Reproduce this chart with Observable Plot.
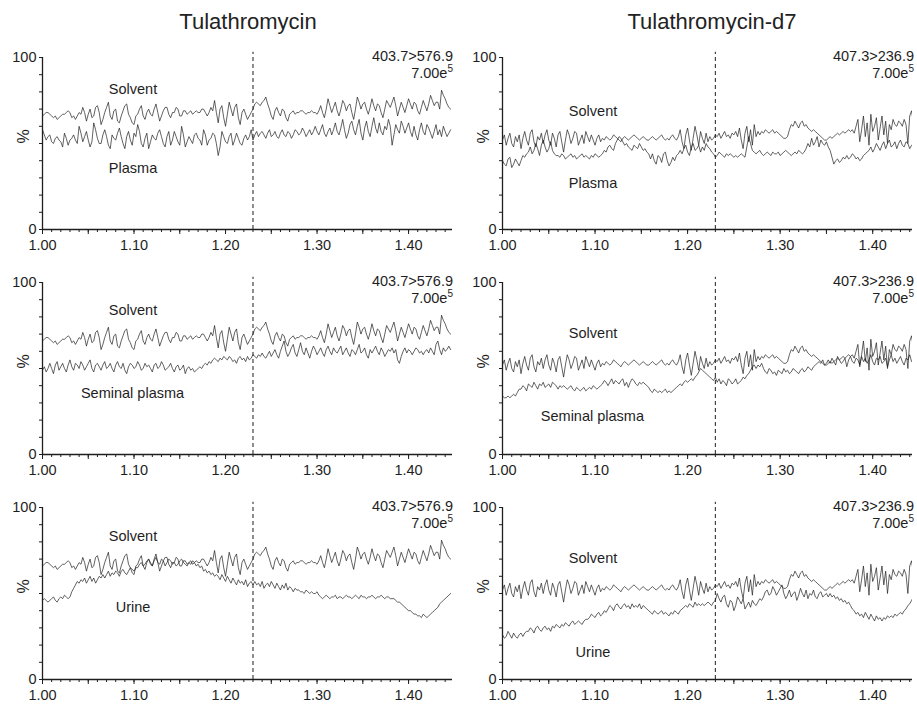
<!DOCTYPE html>
<html><head><meta charset="utf-8">
<script src="https://cdn.jsdelivr.net/npm/d3@7"></script>
<script src="https://cdn.jsdelivr.net/npm/@observablehq/plot@0.6"></script>
<style>
body{margin:0;background:#fff;font-family:"Liberation Sans",Arial,sans-serif;}
#wrap{position:relative;width:917px;height:704px;overflow:hidden;}
.title{position:absolute;top:9px;font-size:22px;line-height:26px;transform:translateX(-50%);white-space:nowrap;color:#222;}
.panel{position:absolute;}
</style></head><body><div id="wrap"></div>
<script>
// retention time (min)
const times = [
1.000,1.002,1.004,1.006,1.008,1.010,1.012,1.014,1.016,1.018,
1.020,1.022,1.024,1.026,1.028,1.030,1.032,1.034,1.036,1.038,
1.040,1.042,1.044,1.046,1.048,1.050,1.052,1.054,1.056,1.058,
1.060,1.062,1.064,1.066,1.068,1.070,1.072,1.074,1.076,1.078,
1.080,1.082,1.084,1.086,1.088,1.090,1.092,1.094,1.096,1.098,
1.100,1.102,1.104,1.106,1.108,1.110,1.112,1.114,1.116,1.118,
1.120,1.122,1.124,1.126,1.128,1.130,1.132,1.134,1.136,1.138,
1.140,1.142,1.144,1.146,1.148,1.150,1.152,1.154,1.156,1.158,
1.160,1.162,1.164,1.166,1.168,1.170,1.172,1.174,1.176,1.178,
1.180,1.182,1.184,1.186,1.188,1.190,1.192,1.194,1.196,1.198,
1.200,1.202,1.204,1.206,1.208,1.210,1.212,1.214,1.216,1.218,
1.220,1.222,1.224,1.226,1.228,1.230,1.232,1.234,1.236,1.238,
1.240,1.242,1.244,1.246,1.248,1.250,1.252,1.254,1.256,1.258,
1.260,1.262,1.264,1.266,1.268,1.270,1.272,1.274,1.276,1.278,
1.280,1.282,1.284,1.286,1.288,1.290,1.292,1.294,1.296,1.298,
1.300,1.302,1.304,1.306,1.308,1.310,1.312,1.314,1.316,1.318,
1.320,1.322,1.324,1.326,1.328,1.330,1.332,1.334,1.336,1.338,
1.340,1.342,1.344,1.346,1.348,1.350,1.352,1.354,1.356,1.358,
1.360,1.362,1.364,1.366,1.368,1.370,1.372,1.374,1.376,1.378,
1.380,1.382,1.384,1.386,1.388,1.390,1.392,1.394,1.396,1.398,
1.400,1.402,1.404,1.406,1.408,1.410,1.412,1.414,1.416,1.418,
1.420,1.422,1.424,1.426,1.428,1.430,1.432,1.434,1.436,1.438,
1.440,1.442,1.444,1.446];

// Tulathromycin 403.7>576.9 (relative intensity, %)
const tulaSolvent = [
66,67,68,68,67,66,65,66,64,65, 66,67,67,68,69,68,65,66,64,66, 68,67,71,68,
63,67,70,65,66,71,72,68,61,64, 68,71,74,66,64,69,70,63,62,66, 69,72,73,67,65,62,61,66,
67,70,72,66,64,68,70,67,66,70, 73,68,63,66,69,71,71,67,65,68, 68,71,70,66,66,69,69,67,68,69,
67,68,69,68,68,70,70,68,66,68, 71,69,
75,68,62,70,72,65,60,67,74,70,
66,71,73,65,61,68,70,67,64,66,68,70,
73,74,73,72,74,75,77,73,
70,66,64,69,71,68,66,70,69,65, 63,67,68,69,67,68,68,69,69,68, 67,68,68,69,68,68,67,69,
72,68,65,70,76,72,68,71,74,69, 66,70,75,73,69,72,73,68,64,70, 77,74,70,73,74,70,67,71,76,72,
69,73,72,68,65,70,75,73,71,74, 77,72,66,70,74,71,68,72,76,73, 70,74,73,69,67,71,75,72,69,73,
78,75,72,74,74,70,81,78,76,73, 71,70];
const tulaPlasma = [
58,55,52,54,55,51,50,53,54,52, 51,48,56,53,49,52,53,55,52,50,
60,56,51,54,57,52,48,51,62,58, 53,50,50,55,58,54,49,47,55,53,
52,56,59,54,50,47,54,57,52,49, 56,54,61,57,50,48,53,56,47,51,
55,53,52,56,58,54,50,48,54,57, 49,52,57,54,51,49,60,55,48,51,
54,52,50,55,56,53,52,49,58,55, 49,52,53,56,55,50,43,48,57,54,
51,50,54,56,49,52,56,53,50,49, 53,55,52,54,58,52,55,57,54,56,
57,55,53,56,58,54,55,57,54,53, 56,58,55,54,57,56,53,55,58,57,
55,56,59,57,54,56,58,55,57,60, 57,55,58,61,56,54,57,59,55,58,
62,57,55,59,64,58,53,56,61,63, 58,55,60,64,56,52,59,63,57,54,
60,65,59,56,62,57,55,60,58,64, 60,49,55,61,58,56,63,60,56,59,
62,57,54,60,55,52,58,62,57,55, 61,59,56,53,57,61,55,58,54,60,
57,54,56,58];
const tulaSeminal = [
49,51,48,50,53,50,47,52,54,49, 51,53,50,48,52,55,51,49,53,52,
50,54,52,49,51,53,55,50,48,52, 53,51,49,52,54,50,51,53,50,48,
52,54,51,50,53,49,47,51,53,52, 50,51,54,52,49,50,53,51,52,50,
48,52,53,50,51,54,52,49,50,51, 53,50,48,51,52,49,50,52,47,50,
51,49,50,48,49,50,51,50,52,53, 52,54,53,55,56,55,54,56,55,57,
56,55,57,56,54,55,53,56,57,55, 56,54,57,55,56,58,57,56,58,57,
59,57,56,58,60,57,59,61,58,56, 60,63,66,60,57,59,62,64,59,57,
61,65,60,58,62,59,56,60,63,61, 58,60,62,59,57,61,63,60,58,62,
60,59,61,63,58,60,62,59,57,61, 60,58,61,64,59,60,62,58,56,61,
59,61,63,60,58,62,60,57,59,61, 60,62,59,61,55,53,57,60,62,59,
61,60,58,60,62,61,59,60,58,60, 61,59,62,60,58,64,66,61,58,62,
60,61,63,61];
const tulaUrine = [
46,47,46,45,46,47,48,46,45,47,48,47,49,48,47,48,
51,53,55,57,56,58,
57,59,56,58,60,57,59,56,58,60,59,61,
59,61,63,60,62,61,63,62,60,63,64,62,61,63,65,64,63,65,
65,67,68,66,67,69,70,68,66,69, 71,68,67,70,69,66,68,70,69,67, 68,66,67,69,70,68,67,66,68,67, 69,68,66,67,65,66,
63,64,62,63,61,62,60,61,
60,58,61,59,57,60,58,56,59,57,55,58,56,57,55,58,54,56,57,55,
57,55,56,54,57,53,55,56,54,57,55,53,56,54,52,55,53,56,52,54,53,51,53,52,
52,51,51,50,52,51,50,51,50,50,51,49,
48,47,48,49,48,47,48,48,49,47, 48,48,47,48,49,48,48,47,48,49, 48,47,49,48,48,47,48,48,49,48, 47,48,48,49,48,47,48,48,47,47,
47,46,45,45,44,43,42,41,40,40,39,38,38,37,37,36,38,37,36,37,
38,39,40,41,42,44,45,46,47,48,49,50];

// Tulathromycin-d7 407.3>236.9
const d7Solvent = [
52,55,49,53,56,50,48,54,51,55, 47,53,57,52,49,56,58,51,48,54,
52,56,50,55,58,52,49,56,53,48, 55,57,51,45,52,58,55,50,53,57,
56,49,52,55,50,57,54,51,55,52, 49,53,55,51,
53,52,54,53,52,53,55,54,53,52, 51,53,54,53,52,53,54,55,54,53, 52,53,54,53,52,52,53,54,53,52, 53,54,55,53,52,53,52,54,55,53, 52,54,
58,51,47,55,59,52,46,53,60,55,49,57,53,50,56,51,54,52,
53,55,54,56,53,55,57,54,55,53,56,55,57,54,
59,52,47,56,60,51,58,49,61,54,57,55,
57,56,58,57,56,57,58,56,57,56,55,54,53,53,
54,58,61,60,63,61,59,62,63,60,61,59,58,57,
58,57,56,55,54,53,52,52,53,54,53,54,
55,56,55,56,57,56,57,58,57,58,56,60,
64,51,58,66,54,62,49,67,57,60,65,52,59,66,55,63,50,61,58,64,
61,60,63,62,60,64,61,50,66,69,62,57];
const d7Plasma = [
40,38,37,41,42,36,38,41,39,37,40,43,42,44,
45,48,44,46,50,47,43,49,52,48,45,47,51,46,44,43,
43,42,44,43,41,42,43,44,42,43,41,42,43,44,42,43,42,41,43,42,44,43,42,43,
44,46,45,48,49,47,46,50,52,54,53,51,49,50,
48,47,46,49,48,47,50,48,46,47,45,44,
41,44,40,38,43,42,39,44,45,40,37,39,42,40,43,44,
46,44,47,49,45,43,48,50,46,47,49,45,48,46,50,48,47,45,
44,42,43,45,44,43,42,44,43,44,
43,42,43,42,43,44,43,42,
48,54,50,46,
45,44,45,46,44,43,44,45,44,43, 45,44,44,45,43,44,45,46,45,44, 43,44,45,44,46,45,44,45,
47,50,48,53,49,51,54,48,52,50,49,51,48,46,
42,38,40,41,39,40,42,41,
43,41,42,44,43,41,42,40,41,43,44,45,
46,48,45,47,50,48,46,49,51,47, 50,52,48,49,51,47,50,52,49,48, 51,50,47,49,48,46];
const d7Seminal = [
34,33,33,34,33,34,35,34,36,38,
38,40,39,37,41,40,39,42,40,38, 41,40,42,39,40,41,39,42,41,40, 38,40,39,40,
39,38,39,40,38,37,39,38,37,38, 39,37,38,39,38,40,39,38,39,40,
41,43,42,40,42,44,41,43,42,41, 43,44,40,42,39,42,44,43,41,40, 42,41,42,41,40,39,
37,36,38,37,36,37,36,37,38,36,37,36,37,38,
39,40,41,40,42,43,42,43,44,43,45,46,
48,50,49,48,47,46,45,44,
43,45,42,44,41,43,42,40,44,43, 41,42,44,41,42,43,45,44,46,47,
49,51,52,50,52,51,53,50,
48,47,50,49,47,48,46,49,48,47, 50,48,49,47,48,50,49,48,47,49, 50,48,49,51,50,49,51,52,
53,54,53,55,52,53,
55,53,56,54,52,57,55,53,54,56, 51,55,57,54,53,56,55,52,57,54, 56,53,55,58,54,52,56,55,57,53,
54,56,51,55,58,54,56,53,55,57, 54,52,56,55,58,54,53,55];
const d7Urine = [
26,24,25,28,26,24,27,25,24,26,27,25,27,28,
28,30,29,27,30,31,29,28,30,31,29,30,28,31,30,32,31,30,
32,31,33,32,31,33,34,32,33,34,33,32,34,35,
35,36,38,37,36,38,39,37,38,40,39,
41,43,42,40,43,44,42,41,43,44, 42,43,41,44,42,43,42,44,41,43, 42,41,
40,39,38,40,39,38,39,40,38,39,38,37,39,38,40,39,38,40,
41,42,43,42,44,43,42,45,43,44,43,
44,43,44,45,44,43,45,46,
50,47,45,48,49,44,42,46,45,40, 43,48,46,44,47,41,43,45,42,46, 44,43,45,47,46,
48,51,52,49,50,54,52,49,51,53,55,
50,47,49,52,48,50,51,46,49,53, 50,48,52,47,50,49,52,48,47,50, 51,48,49,50,48,
50,48,49,47,48,46,47,45,46,44,45,43,
41,40,38,39,37,38,36,39,37,35,38,36,34,37,35,36,34,36,35,37,
36,37,36,38,37,38,39,38,40,41,43,44,46,48,50];

const columnTitles = ["Tulathromycin", "Tulathromycin-d7"];
const transitions = ["403.7>576.9", "407.3>236.9"];
const scaleBase = "7.00e", scaleExp = "5";
const matrixNames = ["Plasma", "Seminal plasma", "Urine"];
const xLabelTicks = [1.00, 1.10, 1.20, 1.30, 1.40];
const yTicks = [0,10,20,30,40,50,60,70,80,90,100];
const cutTime = 1.23;

const wrap = document.getElementById("wrap");
const FONT = "Liberation Sans, Arial, sans-serif";
const INK = "#1e1e1e";

[[248, columnTitles[0]], [712, columnTitles[1]]].forEach(([cx, t]) => {
  const d = document.createElement("div");
  d.className = "title"; d.style.left = cx + "px"; d.textContent = t;
  wrap.appendChild(d);
});

const cols = [
  {left: 0, width: 458, ml: 42, mr: 6, xmax: 1.448, annX: 453, solvent: tulaSolvent,
   matrices: [tulaPlasma, tulaSeminal, tulaUrine],
   labels: [
     {s: [1.0725, 81.4], m: [1.0725, 35.5]},
     {s: [1.0725, 83.7], m: [1.042, 35.5]},
     {s: [1.0725, 83.1], m: [1.080, 41.9]}]},
  {left: 458, width: 459, ml: 44, mr: 5, xmax: 1.443, annX: 456, solvent: d7Solvent,
   matrices: [d7Plasma, d7Seminal, d7Urine],
   labels: [
     {s: [1.0717, 68.6], m: [1.0717, 26.7]},
     {s: [1.0717, 70.3], m: [1.0414, 22.1]},
     {s: [1.0717, 70.3], m: [1.079, 15.7]}]}
];

const minorTicks = d3.range(100, 145).map(d => d / 100);
const midTicks = d3.range(100, 145, 5).map(d => d / 100);

cols.forEach((c, ci) => {
  for (let r = 0; r < 3; r++) {
    const sRows = times.map((t, i) => ({t, v: c.solvent[i]}));
    const mRows = times.map((t, i) => ({t, v: c.matrices[r][i]}));
    const lab = c.labels[r];
    const H = 221, MT = 17;
    const svg = Plot.plot({
      width: c.width, height: H,
      marginLeft: c.ml, marginRight: c.mr, marginTop: MT, marginBottom: 32,
      style: {fontFamily: FONT, fontSize: "14px", color: INK, background: "transparent", overflow: "visible"},
      x: {domain: [1, c.xmax], axis: null},
      y: {domain: [0, 100], axis: null},
      marks: [
        Plot.axisX({ticks: minorTicks, tickSize: 3, tickFormat: () => "", stroke: INK}),
        Plot.axisX({ticks: midTicks, tickSize: 5, tickPadding: 5, stroke: INK, fill: INK, fontSize: 14.5,
          tickFormat: d => xLabelTicks.some(v => Math.abs(v - d) < 1e-9) ? d.toFixed(2) : ""}),
        Plot.axisY({ticks: yTicks, tickSize: 3, tickPadding: 3, stroke: INK, fill: INK, fontSize: 14.5,
          tickFormat: d => (d === 0 || d === 100) ? String(d) : ""}),
        Plot.ruleY([0], {stroke: INK, strokeWidth: 1.3}),
        Plot.ruleX([1], {stroke: INK, strokeWidth: 1.3}),
        Plot.ruleX([cutTime], {y1: 0, y2: 103, stroke: "#333", strokeWidth: 1.1, strokeDasharray: "4,3"}),
        Plot.line(sRows, {x: "t", y: "v", stroke: INK, strokeWidth: 0.7, clip: true}),
        Plot.line(mRows, {x: "t", y: "v", stroke: INK, strokeWidth: 0.7, clip: true}),
        Plot.text(["%"], {frameAnchor: "left", dx: -19, rotate: -90, fontSize: 16, fill: INK}),
        Plot.text([{x: lab.s[0], y: lab.s[1], s: "Solvent"}, {x: lab.m[0], y: lab.m[1], s: matrixNames[r]}],
          {x: "x", y: "y", text: "s", textAnchor: "start", lineAnchor: "middle", fontSize: 14.5, fill: INK})
      ]
    });
    const sel = d3.select(svg);
    sel.append("text").attr("x", c.annX).attr("y", MT - 1).attr("text-anchor", "end")
      .attr("dominant-baseline", "central").attr("font-size", 14.5).attr("font-family", FONT)
      .attr("fill", INK).text(transitions[ci]);
    const t2 = sel.append("text").attr("x", c.annX).attr("y", MT + 21).attr("text-anchor", "end")
      .attr("font-size", 14.5).attr("font-family", FONT).attr("fill", INK);
    t2.append("tspan").text(scaleBase);
    t2.append("tspan").attr("dy", -6).attr("font-size", 10).text(scaleExp);
    const holder = document.createElement("div");
    holder.className = "panel";
    holder.style.left = c.left + "px";
    holder.style.top = (40 + 225 * r) + "px";
    holder.appendChild(svg);
    wrap.appendChild(holder);
  }
});
</script>
</body></html>
